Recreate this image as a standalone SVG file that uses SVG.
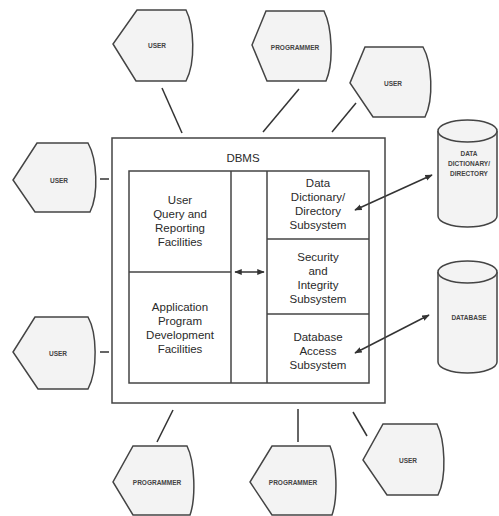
<svg xmlns="http://www.w3.org/2000/svg" width="499" height="516" viewBox="0 0 499 516">
<defs>
<style>
.shape{fill:#f3f3f3;stroke:#444;stroke-width:1.5}
.box{fill:none;stroke:#444;stroke-width:1.5}
.ln{fill:none;stroke:#333;stroke-width:1.5}
.t{font-family:"Liberation Sans",Arial,sans-serif;font-size:11.5px;fill:#2a2a2a;text-anchor:middle}
.s{font-family:"Liberation Sans",Arial,sans-serif;font-size:6.5px;font-weight:bold;fill:#444;text-anchor:middle}
</style>
<marker id="ah" viewBox="0 0 10 10" refX="9" refY="5" markerWidth="5" markerHeight="5" orient="auto-start-reverse">
<path d="M0,1 L10,5 L0,9 Z" fill="#333"/>
</marker>
</defs>
<rect width="499" height="516" fill="#fff"/>

<g id="connectors">
<line class="ln" x1="162" y1="88" x2="182" y2="133"/>
<line class="ln" x1="299" y1="89" x2="263" y2="132"/>
<line class="ln" x1="356" y1="103" x2="332" y2="132"/>
<line class="ln" x1="100" y1="179" x2="109" y2="179"/>
<line class="ln" x1="100" y1="352" x2="109" y2="352"/>
<line class="ln" x1="173" y1="410" x2="157" y2="442"/>
<line class="ln" x1="298" y1="409" x2="298" y2="442"/>
<line class="ln" x1="353" y1="412" x2="367" y2="436"/>
<line class="ln" x1="355" y1="210" x2="432" y2="175" marker-start="url(#ah)" marker-end="url(#ah)"/>
<line class="ln" x1="355" y1="353" x2="429" y2="315" marker-start="url(#ah)" marker-end="url(#ah)"/>
<line class="ln" x1="235" y1="272" x2="264" y2="272" marker-start="url(#ah)" marker-end="url(#ah)"/>
</g>

<g id="dbms">
<rect class="box" x="112" y="138" width="273" height="265"/>
<text class="t" x="243" y="162">DBMS</text>
<rect class="box" x="129" y="171" width="240" height="212"/>
<line class="box" x1="231" y1="171" x2="231" y2="383"/>
<line class="box" x1="267" y1="171" x2="267" y2="383"/>
<line class="box" x1="129" y1="272" x2="231" y2="272"/>
<line class="box" x1="267" y1="239" x2="369" y2="239"/>
<line class="box" x1="267" y1="314" x2="369" y2="314"/>
</g>

<g id="user-query">
<text class="t" x="180" y="204">User</text>
<text class="t" x="180" y="218">Query and</text>
<text class="t" x="180" y="232">Reporting</text>
<text class="t" x="180" y="246">Facilities</text>
</g>
<g id="app-dev">
<text class="t" x="180" y="311">Application</text>
<text class="t" x="180" y="325">Program</text>
<text class="t" x="180" y="339">Development</text>
<text class="t" x="180" y="353">Facilities</text>
</g>
<g id="dd-subsystem">
<text class="t" x="318" y="187">Data</text>
<text class="t" x="318" y="201">Dictionary/</text>
<text class="t" x="318" y="215">Directory</text>
<text class="t" x="318" y="229">Subsystem</text>
</g>
<g id="security">
<text class="t" x="318" y="261">Security</text>
<text class="t" x="318" y="275">and</text>
<text class="t" x="318" y="289">Integrity</text>
<text class="t" x="318" y="303">Subsystem</text>
</g>
<g id="db-access">
<text class="t" x="318" y="341">Database</text>
<text class="t" x="318" y="355">Access</text>
<text class="t" x="318" y="369">Subsystem</text>
</g>

<g id="user-top">
<path class="shape" d="M137,10 L186,10 C194,26 196,62 186,81 L136,81 L113,44 Z"/>
<text class="s" x="157" y="48">USER</text>
</g>
<g id="programmer-top">
<path class="shape" d="M266,11 L324,11 C332,27 334,63 326,81 L267,81 L252,45 Z"/>
<text class="s" x="295" y="50">PROGRAMMER</text>
</g>
<g id="user-right">
<path class="shape" d="M365,47 L423,47 C432,63 434,99 425,117 L373,117 L350,83 Z"/>
<text class="s" x="393" y="86">USER</text>
</g>
<g id="user-left">
<path class="shape" d="M37,143 L88,143 C97,159 99,194 90,212 L35,212 L13,180 Z"/>
<text class="s" x="59" y="183">USER</text>
</g>
<g id="user-left-low">
<path class="shape" d="M35,317 L88,317 C97,333 98,370 88,389 L38,389 L13,352 Z"/>
<text class="s" x="58" y="356">USER</text>
</g>
<g id="programmer-bottom-left">
<path class="shape" d="M133,446 L187,446 C195,462 196,498 190,515 L133,515 L113,482 Z"/>
<text class="s" x="157" y="485">PROGRAMMER</text>
</g>
<g id="programmer-bottom-right">
<path class="shape" d="M272,446 L330,446 C337,462 338,498 332,515 L272,515 L250,482 Z"/>
<text class="s" x="293" y="485">PROGRAMMER</text>
</g>
<g id="user-bottom-right">
<path class="shape" d="M383,424 L437,424 C445,440 447,477 438,495 L387,495 L363,460 Z"/>
<text class="s" x="408" y="463">USER</text>
</g>

<g id="data-dictionary">
<path class="shape" d="M438,131 L438,216 A29.5,11 0 0 0 497,216 L497,131"/>
<ellipse class="shape" cx="467.5" cy="131" rx="29.5" ry="11"/>
<text class="s" x="469" y="156">DATA</text>
<text class="s" x="469" y="166">DICTIONARY/</text>
<text class="s" x="469" y="176">DIRECTORY</text>
</g>
<g id="database">
<path class="shape" d="M438,272 L438,362 A29.5,11 0 0 0 497,362 L497,272"/>
<ellipse class="shape" cx="467.5" cy="272" rx="29.5" ry="11"/>
<text class="s" x="469" y="320">DATABASE</text>
</g>
</svg>
